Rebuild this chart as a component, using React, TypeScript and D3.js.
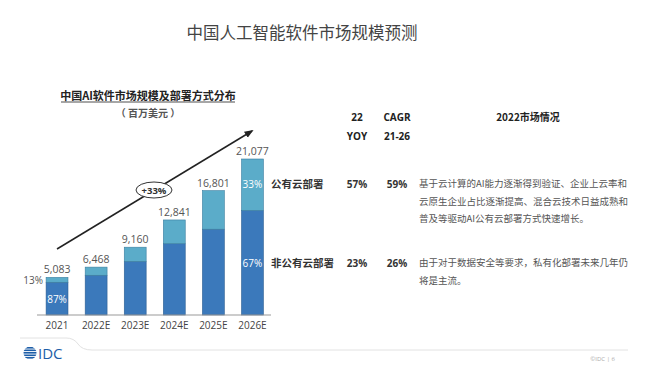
import React from 'react';
import * as d3 from 'd3';

const years = ['2021', '2022E', '2023E', '2024E', '2025E', '2026E'];
const totals = [5083, 6468, 9160, 12841, 16801, 21077];
const publicShare = [0.13, 0.17, 0.21, 0.25, 0.31, 0.33];
const totalLabels = ['5,083', '6,468', '9,160', '12,841', '16,801', '21,077'];

const tableHead = [['22', 'YOY'], ['CAGR', '21-26']];
const rows = [
  {
    name: '公有云部署',
    yoy: '57%',
    cagr: '59%',
    lines: ['基于云计算的AI能力逐渐得到验证、企业上云率和', '云原生企业占比逐渐提高、混合云技术日益成熟和', '普及等驱动AI公有云部署方式快速增长。'],
  },
  {
    name: '非公有云部署',
    yoy: '23%',
    cagr: '26%',
    lines: ['由于对于数据安全等要求，私有化部署未来几年仍', '将是主流。'],
  },
];

const font = '"Open Sans", "Noto Sans CJK SC", sans-serif';
const cjk = '"Noto Sans CJK SC", "Open Sans", sans-serif';
const dark = '#3b79bb';
const light = '#5bacc9';

export default function App() {
  const x = d3.scaleBand<string>()
    .domain(years)
    .range([37.5, 272])
    .paddingInner(0.44)
    .paddingOuter(0.22);

  const y = d3.scaleLinear()
    .domain([0, d3.max(totals) as number])
    .range([315, 159]);

  const bw = x.bandwidth();
  const cx = (yr: string) => (x(yr) as number) + bw / 2;
  const rowY = [188, 267];
  const last = years.length - 1;

  return (
    <svg width={650} height={366} style={{ position: 'absolute', left: 0, top: 0, background: '#fff' }}>
      <defs>
        <marker id="ah" viewBox="0 0 10 10" refX="8" refY="5" markerWidth="6" markerHeight="6" orient="auto">
          <path d="M0,1 L10,5 L0,9 z" fill="#222" />
        </marker>
      </defs>

      {/* page title */}
      <text x={302} y={39} textAnchor="middle" fontFamily={cjk} fontSize={16.5} fill="#444">
        中国人工智能软件市场规模预测
      </text>

      {/* chart title */}
      <text x={148} y={100} textAnchor="middle" fontFamily={cjk} fontSize={11} fontWeight="bold" fill="#222">
        中国AI软件市场规模及部署方式分布
      </text>
      <line x1={61} x2={235} y1={102} y2={102} stroke="#222" strokeWidth={0.8} />
      <text x={148} y={117} textAnchor="middle" fontFamily={cjk} fontSize={10} fontWeight="bold" fill="#555">
        （ 百万美元 ）
      </text>

      {/* bars */}
      {years.map((yr, i) => {
        const pub = totals[i] * publicShare[i];
        return (
          <g key={yr}>
            <rect x={x(yr)} y={y(totals[i] - pub)} width={bw} height={y(0) - y(totals[i] - pub)}
              fill={dark} stroke="#2c5e92" strokeWidth={0.6} />
            <rect x={x(yr)} y={y(totals[i])} width={bw} height={y(totals[i] - pub) - y(totals[i])}
              fill={light} stroke="#3a7ea0" strokeWidth={0.6} />
            <text x={cx(yr)} y={y(totals[i]) - 4} textAnchor="middle" fontFamily={font} fontSize={10.5} fill="#555">
              {totalLabels[i]}
            </text>
            <text x={cx(yr)} y={329} textAnchor="middle" fontFamily={font} fontSize={10} fill="#444">
              {yr}
            </text>
          </g>
        );
      })}
      <line x1={37} x2={271} y1={315} y2={315} stroke="#999" strokeWidth={1} />

      {/* share labels */}
      <text x={43} y={284} textAnchor="end" fontFamily={font} fontSize={10} fill="#555">
        {Math.round(publicShare[0] * 100)}%
      </text>
      <text x={cx(years[0])} y={303} textAnchor="middle" fontFamily={font} fontSize={10} fill="#fff">
        {Math.round((1 - publicShare[0]) * 100)}%
      </text>
      <text x={cx(years[last])} y={188} textAnchor="middle" fontFamily={font} fontSize={10} fill="#fff">
        {Math.round(publicShare[last] * 100)}%
      </text>
      <text x={cx(years[last])} y={266.5} textAnchor="middle" fontFamily={font} fontSize={10} fill="#fff">
        {Math.round((1 - publicShare[last]) * 100)}%
      </text>

      {/* growth arrow */}
      <line x1={57} y1={249} x2={252} y2={131} stroke="#222" strokeWidth={1.5} markerEnd="url(#ah)" />
      <ellipse cx={154} cy={190} rx={18} ry={8} fill="#fff" stroke="#333" strokeWidth={1} />
      <text x={154} y={193.5} textAnchor="middle" fontFamily={font} fontSize={9.5} fontWeight="bold" fill="#333">
        +33%
      </text>

      {/* table header */}
      {tableHead.map((h, i) => (
        <g key={i}>
          <text x={357 + i * 40} y={121} textAnchor="middle" fontFamily={font} fontSize={10} fontWeight="bold" fill="#222">{h[0]}</text>
          <text x={357 + i * 40} y={140} textAnchor="middle" fontFamily={font} fontSize={10} fontWeight="bold" fill="#222">{h[1]}</text>
        </g>
      ))}
      <text x={528} y={121} textAnchor="middle" fontFamily={cjk} fontSize={10} fontWeight="bold" fill="#222">2022市场情况</text>

      {/* table rows */}
      {rows.map((r, i) => (
        <g key={r.name}>
          <text x={271} y={rowY[i]} fontFamily={cjk} fontSize={10.5} fontWeight="bold" fill="#333">{r.name}</text>
          <text x={357} y={rowY[i]} textAnchor="middle" fontFamily={font} fontSize={10} fontWeight="bold" fill="#333">{r.yoy}</text>
          <text x={397} y={rowY[i]} textAnchor="middle" fontFamily={font} fontSize={10} fontWeight="bold" fill="#333">{r.cagr}</text>
          {r.lines.map((l, j) => (
            <text key={j} x={419} y={rowY[i] - 1 + j * 17.5} fontFamily={cjk} fontSize={9.5} fill="#555">{l}</text>
          ))}
        </g>
      ))}

      {/* footer */}
      <path d="M20,338 L66,338 Q74,338 78,344 Q82,350 92,350 L628,350" fill="none" stroke="#e2e2e2" strokeWidth={1} />
      <g transform="translate(30,353)">
        <clipPath id="globe"><circle r={6.5} /></clipPath>
        <g clipPath="url(#globe)">
          {[-6, -3.5, -1, 1.5, 4].map((d, k) => (
            <rect key={k} x={-7} y={d} width={14} height={1.6} fill="#1d5ea8" />
          ))}
        </g>
      </g>
      <text x={38} y={358.5} fontFamily={font} fontSize={15} fill="#1d5ea8">IDC</text>
      <text x={615} y={361} textAnchor="end" fontFamily={font} fontSize={6} fill="#aaa">©IDC | 6</text>
    </svg>
  );
}
